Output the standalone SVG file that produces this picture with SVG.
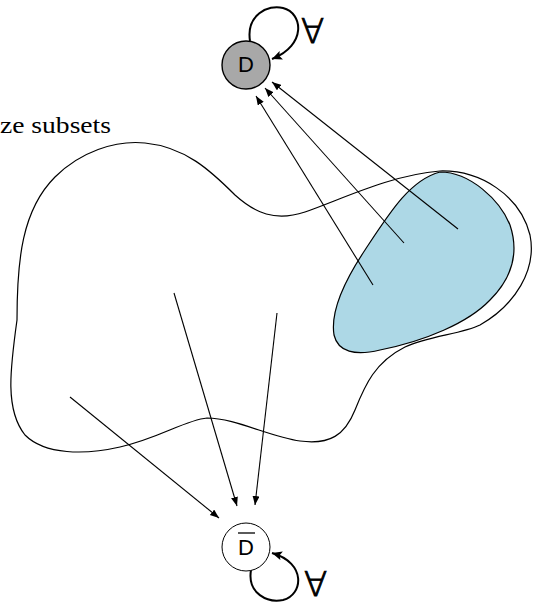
<svg xmlns="http://www.w3.org/2000/svg" width="533" height="603" viewBox="0 0 533 603">
  <style>
    .region { fill: none; stroke: #000; stroke-width: 1.2; }
    .subset { fill: #add8e6; stroke: #000; stroke-width: 1.2; }
    .edge { fill: none; stroke: #000; stroke-width: 1.1; marker-end: url(#tip); }
    .loop { fill: none; stroke: #000; stroke-width: 2; marker-end: url(#tipbold); }
    .label { font-family: "Liberation Sans", Arial, sans-serif; font-size: 22px; text-anchor: middle; fill: #000; }
    .quant { font-family: "DejaVu Sans ExtraLight", "DejaVu Sans", sans-serif; font-weight: 200; font-size: 34px; fill: #000; stroke: #000; stroke-width: 0.9; }
    .caption { font-family: "Liberation Serif", "DejaVu Serif", serif; font-size: 24px; fill: #000; }
  </style>
  <defs>
    <marker id="tip" markerUnits="userSpaceOnUse" markerWidth="10" markerHeight="8" refX="9" refY="3.5" orient="auto">
      <path d="M0,0 L9,3.5 L0,7 Z" fill="#000"/>
    </marker>
    <marker id="tipbold" markerUnits="userSpaceOnUse" markerWidth="12" markerHeight="10" refX="10" refY="4.5" orient="auto">
      <path d="M0,0 L10,4.5 L0,9 L2,4.5 Z" fill="#000"/>
    </marker>
  </defs>

  <!-- caption, running off the left edge -->
  <text class="caption" x="0" y="133" textLength="111" lengthAdjust="spacingAndGlyphs">ze subsets</text>

  <!-- outer region -->
  <path id="region" class="region" d="M 17 320 C 17 260, 22 210, 55 177 C 80 152, 115 140, 145 143 C 185 147, 210 170, 235 195 C 255 213, 275 222, 305 212 C 340 200, 390 175, 440 171 C 480 170, 520 195, 530 235 C 537 270, 515 305, 480 325 C 462 334, 428 336, 405 347 C 375 362, 365 385, 355 410 C 345 435, 330 445, 300 441 C 270 437, 235 418, 207 418 C 185 420, 160 438, 120 447 C 85 455, 45 455, 25 435 C 5 410, 10 370, 17 320 Z"/>

  <!-- shaded subset -->
  <path id="subset" class="subset" d="M 440 172 C 470 172, 500 200, 510 225 C 520 255, 510 280, 490 300 C 468 323, 425 341, 380 350 C 355 356, 338 352, 334 335 C 330 310, 345 280, 365 250 C 390 212, 410 180, 440 172 Z"/>

  <!-- connectors -->
  <g id="connectors">
    <line class="edge" x1="373" y1="285" x2="256" y2="96"/>
    <line class="edge" x1="404" y1="243" x2="265" y2="88"/>
    <line class="edge" x1="458" y1="229" x2="272" y2="82"/>
    <line class="edge" x1="70" y1="397" x2="219" y2="518"/>
    <line class="edge" x1="174" y1="293" x2="237" y2="506"/>
    <line class="edge" x1="277" y1="313" x2="255" y2="505"/>
    <path class="loop" d="M 250 41 C 246 15, 268 4, 283 8 C 303 13, 307 45, 272 59"/>
    <path class="loop" d="M 251 570 C 247 594, 268 603, 283 600 C 303 595, 307 563, 272 553"/>
  </g>

  <!-- node D -->
  <g id="node-D">
    <circle cx="246" cy="65" r="24" fill="#a8a8a8" stroke="#000" stroke-width="1.4"/>
    <text class="label" x="246" y="72">D</text>
    <text class="quant" x="301" y="43">∀</text>
  </g>

  <!-- node D-bar -->
  <g id="node-Dbar">
    <circle cx="246" cy="547" r="24" fill="#fff" stroke="#000" stroke-width="1"/>
    <text class="label" x="246" y="555">D</text>
    <line x1="238" y1="533" x2="255" y2="533" stroke="#000" stroke-width="1.3"/>
    <text class="quant" x="304" y="596">∀</text>
  </g>
</svg>
